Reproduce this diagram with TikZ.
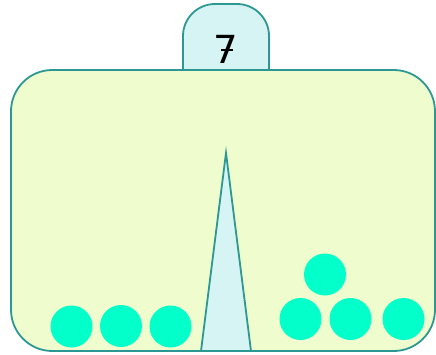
\documentclass[tikz,border=0pt]{standalone}
\usepackage{xcolor}
\usepackage{fontspec}
\newfontfamily\digitfont{DejaVu Sans}
\usepackage{tikz}

\definecolor{boxfill}{RGB}{239,252,205}
\definecolor{tealline}{RGB}{44,152,148}
\definecolor{tabfill}{RGB}{214,244,244}
\definecolor{ballfill}{RGB}{3,255,202}

\tikzset{
  ball/.style={circle,fill=ballfill,inner sep=0pt,minimum size=31.5pt},
  tealdraw/.style={draw=tealline,line width=1.35pt}
}

\begin{document}
\begin{tikzpicture}[x=0.75pt,y=0.75pt,yscale=-1,xscale=1]
    \useasboundingbox (0,0) rectangle (436,354);

        % tab on top
        \draw [tealdraw, fill=tabfill, rounded corners=24pt] (183,72) -- (183,4) -- (269,4) -- (269,72) ;
        % main box
        \draw [tealdraw, fill=boxfill, rounded corners=31pt] (11,70) rectangle (435,351) ;
        % spike
        \draw [tealdraw, fill=tabfill, line join=miter] (201,351) -- (226,153) -- (251,351) ;
        \draw [tealdraw] (201,351) -- (251,351) ;

        \draw (226,49) node [inner sep=0.75pt] (lbl) {\digitfont\fontsize{29}{29}\selectfont \ooalign{7\cr\hidewidth\kern0.06em\raisebox{0.3em}{\rule{0.3em}{0.075em}}\hidewidth\cr}};

        \node [ball] (b1) at (71.5,326.5) {};
        \node [ball] (b2) at (121,326) {};
        \node [ball] (b3) at (170.5,326.5) {};
        \node [ball] (b4) at (300.5,319) {};
        \node [ball] (b5) at (350.5,319) {};
        \node [ball] (b6) at (403.5,319) {};
        \node [ball] (b7) at (325,274.5) {};

\end{tikzpicture}
\end{document}
